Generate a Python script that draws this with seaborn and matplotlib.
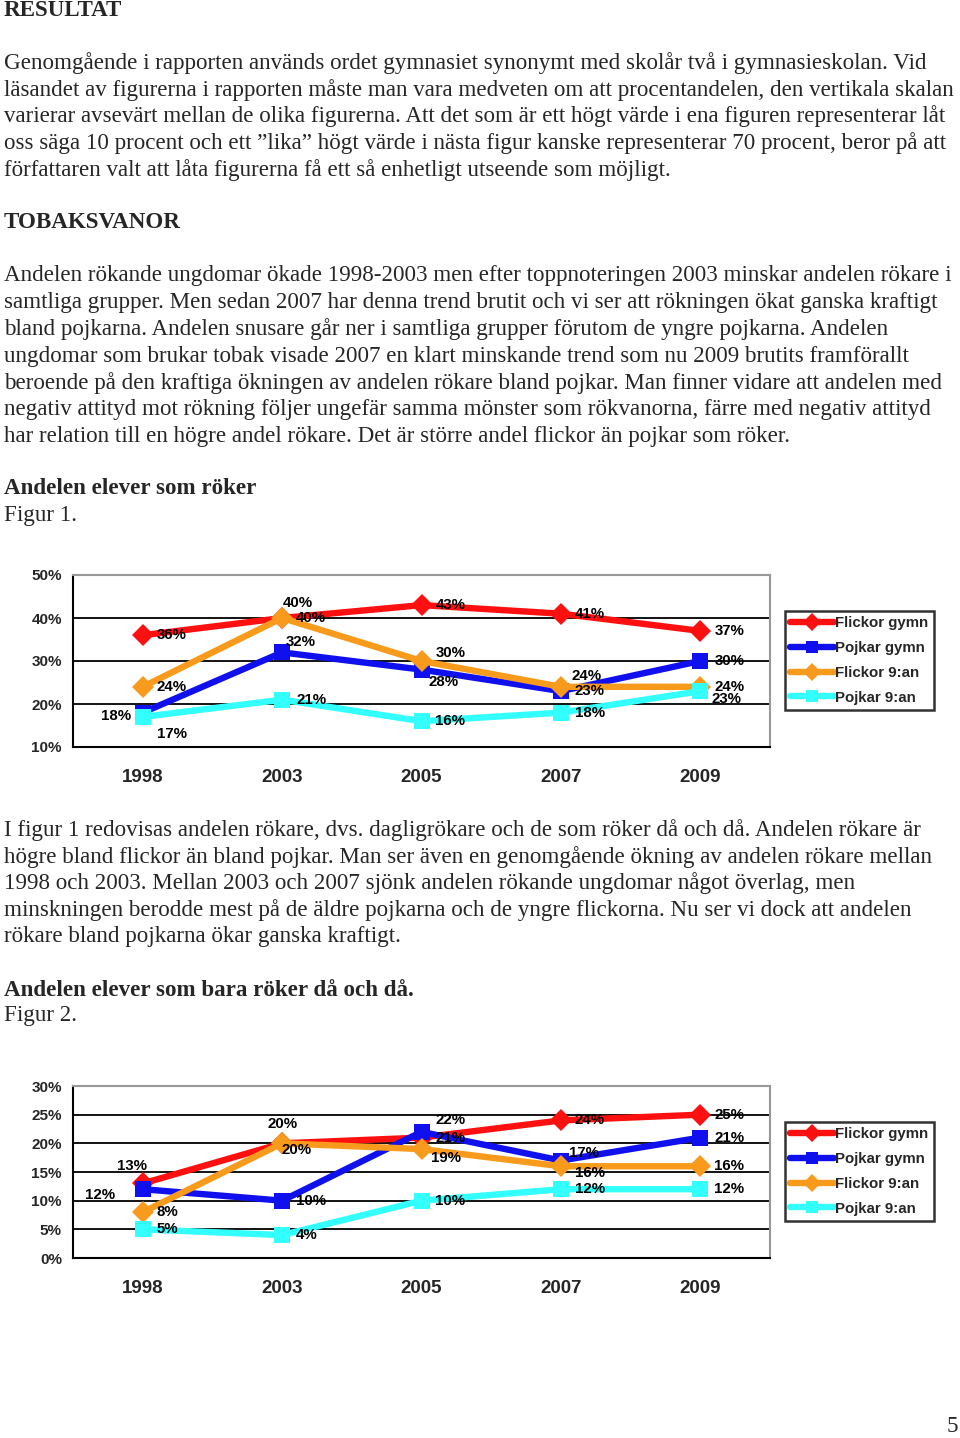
import pandas as pd
import matplotlib.pyplot as plt
import seaborn as sns

# --- data ---
years = ["1998", "2003", "2005", "2007", "2009"]
groups = ["Flickor gymn", "Pojkar gymn", "Flickor 9:an", "Pojkar 9:an"]

# Figur 1: andelen elever som röker (%)
fig1_flickor_gymn = [36, 40, 43, 41, 37]
fig1_pojkar_gymn = [18, 32, 28, 23, 30]
fig1_flickor_9an = [24, 40, 30, 24, 24]
fig1_pojkar_9an = [17, 21, 16, 18, 23]

# Figur 2: andelen elever som bara röker då och då (%)
fig2_flickor_gymn = [13, 20, 21, 24, 25]
fig2_pojkar_gymn = [12, 10, 22, 17, 21]
fig2_flickor_9an = [8, 20, 19, 16, 16]
fig2_pojkar_9an = [5, 4, 10, 12, 12]

palette = {"Flickor gymn": "#ff1010", "Pojkar gymn": "#1010ee",
           "Flickor 9:an": "#f89a1c", "Pojkar 9:an": "#33ffff"}
markers = {"Flickor gymn": "D", "Pojkar gymn": "s",
           "Flickor 9:an": "D", "Pojkar 9:an": "s"}

# label offsets in pixels (dx, dy) per series/point
offs1 = [[(29, 0), (16, 15), (29, 0), (29, 0), (29, 0)],
         [(-27, -3), (19, 10), (22, -12), (29, 0), (29, 0)],
         [(29, 0), (29, 0), (29, 8), (26, 11), (29, 0)],
         [(29, -17), (29, 0), (29, 0), (29, 0), (26, -8)]]
offs2 = [[(-11, 17), (0, 19), (29, 0), (29, 0), (29, 0)],
         [(-43, -6), (29, 0), (29, 12), (23, 8), (29, 0)],
         [(25, 0), (14, -7), (25, -9), (29, -7), (29, 0)],
         [(25, 0), (25, 0), (29, 0), (29, 0), (29, 0)]]

W, H = 960, 1438
sns.set_theme(style="white")
plt.rcParams["font.family"] = ["Liberation Serif", "DejaVu Serif"]

fig = plt.figure(figsize=(W / 100, H / 100), dpi=100)
fig.patch.set_facecolor("white")

BODY = 16.6


def txt(x, y, s, bold=False, size=BODY):
    fig.text(x / W, 1 - y / H, s, fontsize=size, va="center", ha="left",
             fontweight="bold" if bold else "normal",
             family=["Liberation Serif", "DejaVu Serif"])


txt(4, 11, "RESULTAT", bold=True)
para1 = ["Genomgående i rapporten används ordet gymnasiet synonymt med skolår två i gymnasieskolan. Vid",
         "läsandet av figurerna i rapporten måste man vara medveten om att procentandelen, den vertikala skalan",
         "varierar avsevärt mellan de olika figurerna. Att det som är ett högt värde i ena figuren representerar låt",
         "oss säga 10 procent och ett ”lika” högt värde i nästa figur kanske representerar 70 procent, beror på att",
         "författaren valt att låta figurerna få ett så enhetligt utseende som möjligt."]
for i, line in enumerate(para1):
    txt(4, 63 + i * 26.7, line)
txt(4, 223, "TOBAKSVANOR", bold=True)
para2 = ["Andelen rökande ungdomar ökade 1998-2003 men efter toppnoteringen 2003 minskar andelen rökare i",
         "samtliga grupper. Men sedan 2007 har denna trend brutit och vi ser att rökningen ökat ganska kraftigt",
         "bland pojkarna. Andelen snusare går ner i samtliga grupper förutom de yngre pojkarna. Andelen",
         "ungdomar som brukar tobak visade 2007 en klart minskande trend som nu 2009 brutits framförallt",
         "beroende på den kraftiga ökningen av andelen rökare bland pojkar. Man finner vidare att andelen med",
         "negativ attityd mot rökning följer ungefär samma mönster som rökvanorna, färre med negativ attityd",
         "har relation till en högre andel rökare. Det är större andel flickor än pojkar som röker."]
for i, line in enumerate(para2):
    txt(4, 276 + i * 26.7, line)
txt(4, 489, "Andelen elever som röker", bold=True)
txt(4, 516, "Figur 1.")
para3 = ["I figur 1 redovisas andelen rökare, dvs. dagligrökare och de som röker då och då. Andelen rökare är",
         "högre bland flickor än bland pojkar. Man ser även en genomgående ökning av andelen rökare mellan",
         "1998 och 2003. Mellan 2003 och 2007 sjönk andelen rökande ungdomar något överlag, men",
         "minskningen berodde mest på de äldre pojkarna och de yngre flickorna. Nu ser vi dock att andelen",
         "rökare bland pojkarna ökar ganska kraftigt."]
for i, line in enumerate(para3):
    txt(4, 830 + i * 26.6, line)
txt(4, 990, "Andelen elever som bara röker då och då.", bold=True)
txt(4, 1016, "Figur 2.")
fig.text(952 / W, 1 - 1427 / H, "5", fontsize=BODY, va="center", ha="center",
         family=["Liberation Serif"])

SANS = ["Liberation Sans", "DejaVu Sans"]


def chart(top, series, ymin, ymax, ystep, offs, leg_top):
    left, right, bottom = 73, 770, top + 172
    ax = fig.add_axes([left / W, 1 - bottom / H, (right - left) / W, (bottom - top) / H])
    rows = []
    for g, vals in zip(groups, series):
        for i, v in enumerate(vals):
            rows.append({"pos": i, "value": v, "grupp": g})
    df = pd.DataFrame(rows)
    sns.lineplot(data=df, x="pos", y="value", hue="grupp", style="grupp",
                 hue_order=groups, style_order=groups, palette=palette,
                 markers=markers, dashes=False, linewidth=4.6, markersize=11,
                 markeredgewidth=0, ax=ax, legend=True)
    ax.set_xlim(-0.5, 4.5)
    ax.set_ylim(ymin, ymax)
    yt = list(range(ymin, ymax + 1, ystep))
    ax.set_yticks(yt)
    ax.set_yticklabels([f"{v}%" for v in yt], fontsize=11, fontweight="bold", family=SANS)
    ax.set_xticks([i - 0.5 for i in range(6)])
    ax.set_xticklabels([])
    ax.set_xticks(range(5), minor=True)
    ax.set_xticklabels(years, minor=True, fontsize=13.5, fontweight="bold", family=SANS)
    ax.tick_params(axis="x", which="major", direction="out", length=8, width=1.5, color="black")
    ax.tick_params(axis="x", which="minor", length=0, pad=16)
    ax.tick_params(axis="y", direction="out", length=5, width=1.5, color="black", pad=3)
    ax.set_xlabel("")
    ax.set_ylabel("")
    ax.yaxis.grid(True, color="black", linewidth=1.3)
    ax.set_axisbelow(True)
    gls = ax.yaxis.get_gridlines()
    gls[0].set_visible(False)
    gls[-1].set_visible(False)
    for s in ["top", "right"]:
        ax.spines[s].set_color("#999999")
        ax.spines[s].set_linewidth(1.5)
    for s in ["left", "bottom"]:
        ax.spines[s].set_color("black")
        ax.spines[s].set_linewidth(1.5)
    # data labels
    for vals, so in zip(series, offs):
        for i, v in enumerate(vals):
            ax.annotate(f"{v}%", (i, v), xytext=so[i], textcoords="offset pixels",
                        ha="center", va="center", fontsize=10.8, fontweight="bold",
                        family=SANS, color="black")
    handles, labels = ax.get_legend_handles_labels()
    leg = ax.legend(handles, labels, loc="upper left",
                    bbox_to_anchor=(785 / W, 1 - leg_top / H), bbox_transform=fig.transFigure,
                    frameon=True, fancybox=False, edgecolor="black", handlelength=2.9,
                    handletextpad=0.1, labelspacing=0.72, borderpad=0.35, borderaxespad=0,
                    markerscale=0.8,
                    prop={"family": SANS, "weight": "bold", "size": 10.8})
    leg.get_frame().set_linewidth(1.8)
    return ax


chart(575, [fig1_flickor_gymn, fig1_pojkar_gymn, fig1_flickor_9an, fig1_pojkar_9an],
      10, 50, 10, offs1, 611)
chart(1086, [fig2_flickor_gymn, fig2_pojkar_gymn, fig2_flickor_9an, fig2_pojkar_9an],
      0, 30, 5, offs2, 1122)

fig.savefig("out.png", dpi=100, facecolor="white")
